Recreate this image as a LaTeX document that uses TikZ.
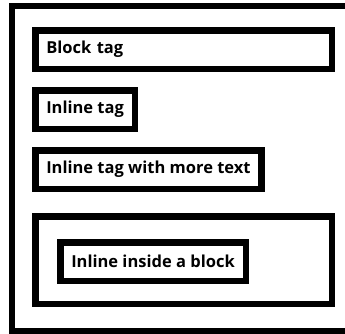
\documentclass[tikz,border=0pt]{standalone}
\usepackage{fontspec}
\setmainfont{Open Sans}
\usetikzlibrary{positioning}
\tikzset{tagbox/.style={draw, rectangle, line width=6.5pt, minimum height=38.5pt,
    inner xsep=11pt, inner ysep=0pt, font=\bfseries\fontsize{16.5}{19}\selectfont}}
\tikzset{blocktag/.style={tagbox, text width=274.5pt, align=left}}
\tikzset{inlinetag/.style={tagbox}}

\begin{document}
\begin{tikzpicture}[x=1pt, y=1pt]
    \useasboundingbox (0,0) rectangle (345,-333);
    % page frame, its right side runs off the picture
    \draw[line width=6pt] (12,-6) rectangle (352,-331);

    \node[blocktag, anchor=north west] (block) at (32,-27) {Block tag};
    \node[inlinetag, below right=15pt and 0pt of block.south west] (inline) {Inline tag};
    \node[inlinetag, below right=15pt and 0pt of inline.south west] (inlinemore) {Inline tag with more text};
    \node[tagbox, minimum width=296.5pt, minimum height=87.5pt,
          below right=21pt and 0pt of inlinemore.south west] (outerblock) {};
    \node[inlinetag, below right=26pt and 25pt of outerblock.north west] (inner) {Inline inside a block};
\end{tikzpicture}
\end{document}
